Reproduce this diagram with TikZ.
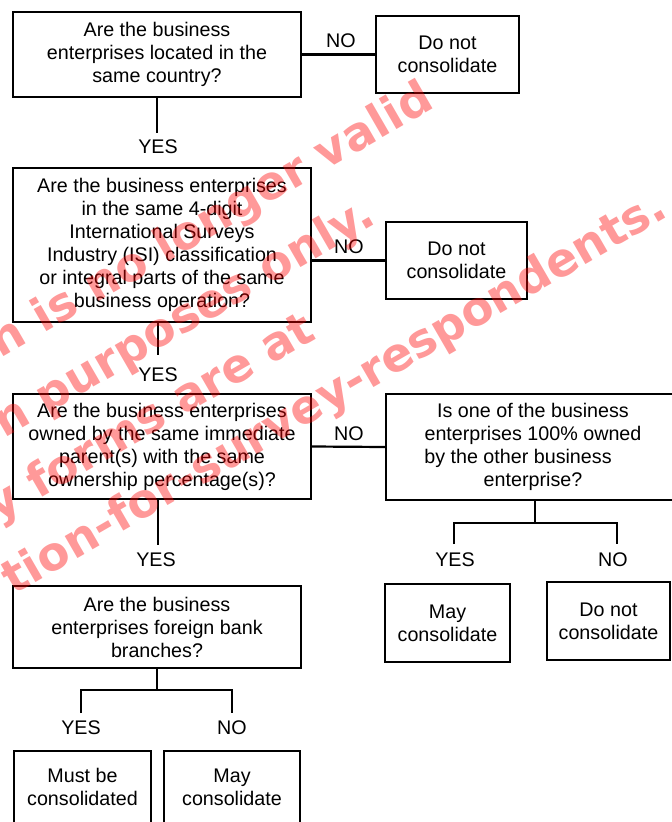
\documentclass[tikz,border=0pt]{standalone}
\usepackage{fontspec}
\setmainfont{Liberation Sans}
\newfontfamily\wmfont{DejaVu Sans}
\tikzset{
  box/.style={draw, line width=2.2pt, rectangle, inner sep=0pt, align=center,
    font=\fontsize{19.7}{23}\selectfont},
  lbl/.style={inner sep=0pt, font=\fontsize{19.7}{23}\selectfont},
  conn/.style={line width=2.2pt},
  wm/.style={text=red, text opacity=0.4, inner sep=0pt, rotate=30, anchor=base east,
    font=\wmfont\bfseries\fontsize{46.5}{46.5}\selectfont}
}
\begin{document}
\begin{tikzpicture}[x=1pt,y=-1pt]
\useasboundingbox (0,0) rectangle (672,822);
\clip (0,0) rectangle (672,822);
% boxes
\node[box, minimum width=288, minimum height=85] (b1) at (157,54.5)
  {Are the business\\enterprises located in the\\same country?};
\node[box, minimum width=143, minimum height=77] (n1) at (447.5,54.5)
  {Do not\\consolidate};
\node[box, minimum width=298, minimum height=154] (b2) at (162,245)
  {Are the business enterprises\\in the same 4-digit\\International Surveys\\Industry (ISI) classification\\or integral parts of the same\\business operation?};
\node[box, minimum width=141, minimum height=77] (n2) at (456.5,260.5)
  {Do not\\consolidate};
\node[box, minimum width=298, minimum height=105] (b3) at (162,446.5)
  {Are the business enterprises\\owned by the same immediate\\parent(s) with the same\\ownership percentage(s)?};
\node[box, minimum width=294, minimum height=106] (b4) at (533,447)
  {Is one of the business\\enterprises 100\% owned\\by the other business\rule{30pt}{0pt}\\enterprise?};
\node[box, minimum width=288, minimum height=82] (b5) at (157,627)
  {Are the business\\enterprises foreign bank\\branches?};
\node[box, minimum width=125, minimum height=78] (r1) at (447.5,623)
  {May\\consolidate};
\node[box, minimum width=123, minimum height=78] (r2) at (608.5,621)
  {Do not\\consolidate};
\node[box, minimum width=137, minimum height=72] (m1) at (82.5,787)
  {Must be\\consolidated};
\node[box, minimum width=136, minimum height=72] (m2) at (232,787)
  {May\\consolidate};
% labels
\node[lbl] (no1) at (341,41) {NO};
\node[lbl] (yes1) at (158,147) {YES};
\node[lbl] (no2) at (349,247) {NO};
\node[lbl] (yes2) at (158,375) {YES};
\node[lbl] (no3) at (349,434) {NO};
\node[lbl] (yes3) at (156,560) {YES};
\node[lbl] (yes4) at (455,560) {YES};
\node[lbl] (no4) at (613,560) {NO};
\node[lbl] (yes5) at (81,728) {YES};
\node[lbl] (no5) at (232,728) {NO};
% coordinates for free ends
\coordinate (e1) at (157,133);
\coordinate (e2) at (158,355);
\coordinate (e3) at (158,545);
\coordinate (j4) at (535,523);
\coordinate (y4) at (454,544);
\coordinate (k4) at (617,544);
\coordinate (j5) at (157,690);
\coordinate (y5) at (81,713);
\coordinate (k5) at (232,713);
% connectors
\draw[conn] (b1.east) -- (n1.west);
\draw[conn] (b1.south) -- (e1);
\draw[conn] (n2.west -| b2.east) -- (n2.west);
\draw[conn] (e2 |- b2.south) -- (e2);
\draw[conn] (b3.east) -- (b4.west);
\draw[conn] (e3 |- b3.south) -- (e3);
\draw[conn] (j4 |- b4.south) -- (j4);
\draw[conn] (y4) |- (j4) -| (k4);
\draw[conn] (b5.south) -- (j5);
\draw[conn] (y5) |- (j5) -| (k5);
% watermark
\node[wm] (w1) at (436,107) {n is no longer valid};
\node[wm] (w2) at (378,223) {n purposes only.};
\node[wm] (w3) at (318,338) {y forms are at};
\node[wm] (w4) at (670,216) {tion-for-survey-respondents.};
\end{tikzpicture}
\end{document}
